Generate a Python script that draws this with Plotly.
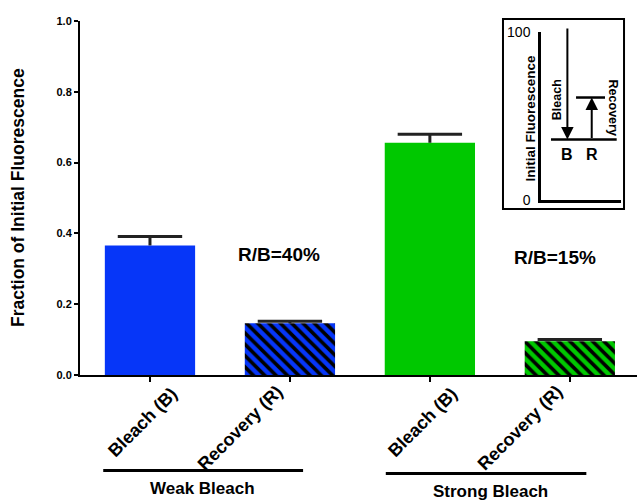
import plotly.graph_objects as go

# ---- data ----
groups = ["Weak Bleach", "Strong Bleach"]
conditions = ["Bleach (B)", "Recovery (R)"]
tick_labels = ["Bleach (B)", "Recovery (R)", "Bleach (B)", "Recovery (R)"]
values = [0.366, 0.146, 0.656, 0.095]
errors = [0.025, 0.006, 0.024, 0.005]
ratios = ["R/B=40%", "R/B=15%"]
y_ticks = [0.0, 0.2, 0.4, 0.6, 0.8, 1.0]

# inset schematic levels (percent of initial fluorescence)
inset_initial = 103
inset_bleached = 36
inset_recovered = 61
inset_ticks = [0, 100]

# ---- styles ----
BLUE = "#0636F8"
GREEN = "#00C800"
ERR = "#222222"
FONT = "Liberation Sans, Arial, sans-serif"
bar_colors = [BLUE, BLUE, GREEN, GREEN]
shapes_pat = ["", "\\", "", "\\"]
label_dx = [-0.05, -0.355, -0.05, -0.355]
label_y = [-0.1328, -0.151, -0.1328, -0.151]

x = list(range(len(values)))

fig = go.Figure()
for i in x:
    fig.add_trace(go.Bar(
        x=[i], y=[values[i]], width=0.645,
        marker=dict(color=bar_colors[i], line=dict(width=0),
                    pattern=dict(shape=shapes_pat[i], fgcolor="black", bgcolor=bar_colors[i],
                                 fgopacity=1, size=8, solidity=0.45, fillmode="replace")),
        error_y=dict(type="data", array=[errors[i]], arrayminus=[0], symmetric=False,
                     color=ERR, thickness=3, width=0),
        xaxis="x", yaxis="y", showlegend=False, hoverinfo="skip",
    ))
# error-bar caps (upper only)
fig.add_trace(go.Scatter(
    x=x, y=[v + e for v, e in zip(values, errors)], mode="markers",
    marker=dict(symbol="line-ew", size=46, color=ERR, line=dict(color=ERR, width=3)),
    showlegend=False, hoverinfo="skip", cliponaxis=False,
))

# inset schematic traces
fig.add_trace(go.Scatter(x=[12.5, 94.6], y=[inset_bleached, inset_bleached], mode="lines",
                         line=dict(color="black", width=2.5), xaxis="x2", yaxis="y2",
                         showlegend=False, hoverinfo="skip"))
fig.add_trace(go.Scatter(x=[43.8, 80.0], y=[inset_recovered, inset_recovered], mode="lines",
                         line=dict(color="black", width=2.5), xaxis="x2", yaxis="y2",
                         showlegend=False, hoverinfo="skip"))

annotations = []
# category labels (rotated)
for i, lab in enumerate(tick_labels):
    annotations.append(dict(x=i + label_dx[i], y=label_y[i], xref="x", yref="paper",
                            text=lab, textangle=-45, showarrow=False,
                            xanchor="center", yanchor="middle",
                            font=dict(family=FONT, size=18, color="black", weight="bold")))
# ratio labels
for gi, txt in enumerate(ratios):
    annotations.append(dict(x=0.923 + 1.97 * gi, y=0.339 - 0.006 * gi, xref="x", yref="y",
                            text=txt, showarrow=False, xanchor="center", yanchor="middle",
                            font=dict(family=FONT, size=19, color="black", weight="bold")))
# group labels + underline
shapes = []
group_spans = [(-0.334, 1.094, -0.270, 0.376, -0.322), (1.685, 3.118, -0.278, 2.434, -0.328)]
for g, (x0, x1, yl, xc, yt) in zip(groups, group_spans):
    shapes.append(dict(type="line", xref="x", yref="paper", x0=x0, x1=x1, y0=yl, y1=yl,
                       line=dict(color="black", width=3)))
    annotations.append(dict(x=xc, y=yt, xref="x", yref="paper", text=g, showarrow=False,
                            xanchor="center", yanchor="middle",
                            font=dict(family=FONT, size=17, color="black", weight="bold")))
# y axis title
annotations.append(dict(x=-0.11, y=0.502, xref="paper", yref="paper", textangle=-90,
                        xanchor="center", yanchor="middle",
                        text="Fraction of Initial Fluorescence", showarrow=False,
                        font=dict(family=FONT, size=17.5, color="black", weight="bold")))

# inset box
shapes.append(dict(type="rect", xref="paper", yref="paper", x0=0.7594, x1=0.9767,
                   y0=0.4689, y1=1.0056, line=dict(color="black", width=2)))
# inset arrows
annotations.append(dict(x=33, y=inset_bleached, ax=33, ay=inset_initial, xref="x2", yref="y2",
                        axref="x2", ayref="y2", text="", showarrow=True, arrowhead=2,
                        arrowwidth=2, arrowsize=1.25, arrowcolor="black"))
annotations.append(dict(x=63.4, y=inset_recovered, ax=63.4, ay=inset_bleached, xref="x2", yref="y2",
                        axref="x2", ayref="y2", text="", showarrow=True, arrowhead=2,
                        arrowwidth=2, arrowsize=1.25, arrowcolor="black"))
annotations.append(dict(x=20, y=60, xref="x2", yref="y2", text="Bleach", textangle=-90,
                        xanchor="center", yanchor="middle",
                        showarrow=False, font=dict(family=FONT, size=12.5, color="black", weight="bold")))
annotations.append(dict(x=90, y=55, xref="x2", yref="y2", text="Recovery", textangle=90,
                        xanchor="center", yanchor="middle",
                        showarrow=False, font=dict(family=FONT, size=12.5, color="black", weight="bold")))
annotations.append(dict(x=33, y=27, xref="x2", yref="y2", text="B",
                        xanchor="center", yanchor="middle",
                        showarrow=False, font=dict(family=FONT, size=16, color="black", weight="bold")))
annotations.append(dict(x=63.4, y=27, xref="x2", yref="y2", text="R",
                        xanchor="center", yanchor="middle",
                        showarrow=False, font=dict(family=FONT, size=16, color="black", weight="bold")))
annotations.append(dict(x=0.8088, y=0.726, xref="paper", yref="paper", text="Initial Fluorescence",
                        textangle=-90, xanchor="center", yanchor="middle",
                        showarrow=False, font=dict(family=FONT, size=13.5, color="black", weight="bold")))

fig.update_layout(
    width=637, height=500,
    margin=dict(l=80, r=0, t=21, b=125),
    paper_bgcolor="white", plot_bgcolor="white",
    showlegend=False,
    barmode="overlay",
    xaxis=dict(domain=[0, 1], range=[-0.5, 3.48], tickvals=x, showticklabels=False,
               showline=True, linecolor="black", linewidth=2,
               ticks="outside", ticklen=5, tickwidth=2, tickcolor="black",
               showgrid=False, zeroline=False),
    yaxis=dict(domain=[0, 1], range=[0, 1.0], tickvals=y_ticks,
               ticktext=[f"{v:.1f}" for v in y_ticks],
               showline=True, linecolor="black", linewidth=2,
               ticks="outside", ticklen=4, tickwidth=2, tickcolor="black",
               showgrid=False, zeroline=False,
               tickfont=dict(family=FONT, size=11, color="black", weight="bold")),
    xaxis2=dict(domain=[0.8276, 0.9713], range=[0, 100], anchor="y2",
                showline=True, linecolor="black", linewidth=2.5, showticklabels=False,
                ticks="", showgrid=False, zeroline=False, fixedrange=True),
    yaxis2=dict(domain=[0.4944, 0.9689], range=[0, 100], anchor="x2",
                showline=True, linecolor="black", linewidth=2.5, tickvals=inset_ticks,
                ticktext=[str(v) for v in inset_ticks], ticks="", ticklabelstandoff=5,
                showgrid=False, zeroline=False, fixedrange=True,
                tickfont=dict(family=FONT, size=14, color="black")),
    shapes=shapes,
    annotations=annotations,
)

fig.write_html("out.html", config={"displayModeBar": False},
               post_script="document.body.style.margin='0';document.body.style.overflow='hidden';")
